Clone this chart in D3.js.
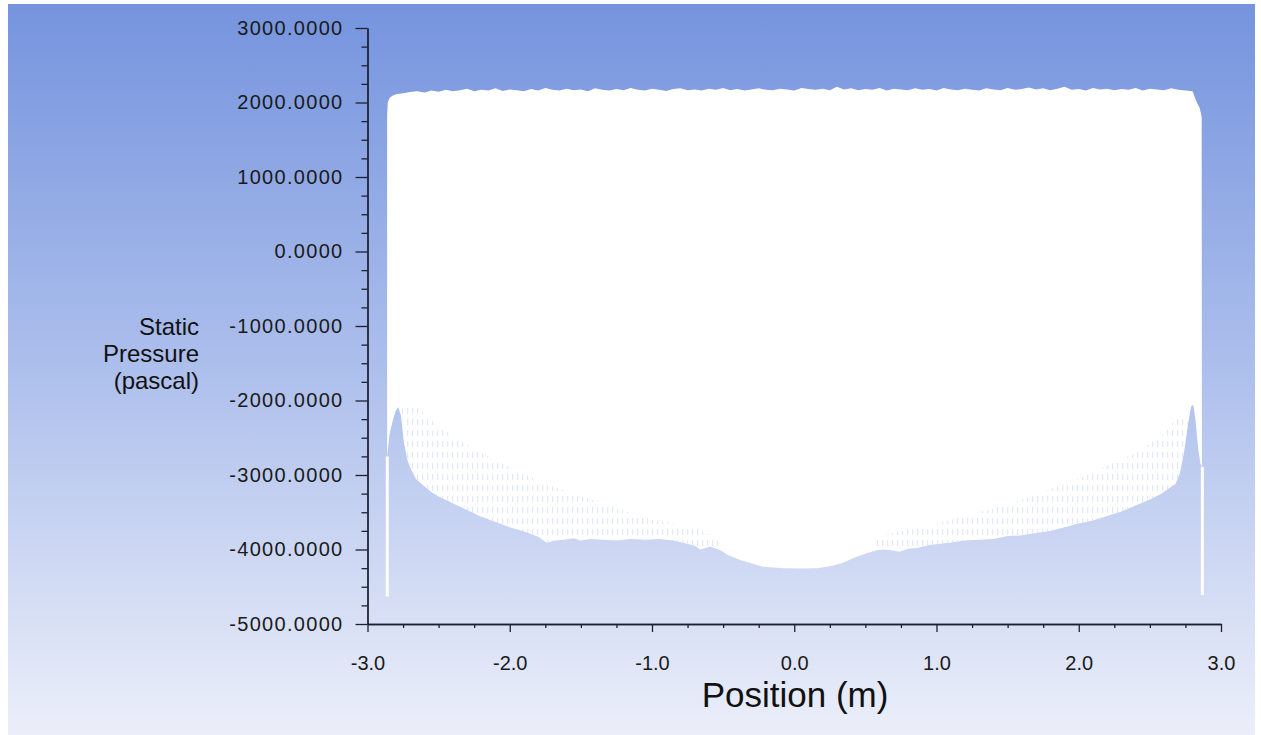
<!DOCTYPE html>
<html>
<head>
<meta charset="utf-8">
<script src="https://cdn.jsdelivr.net/npm/d3@7"></script>
<style>
  html, body { margin: 0; padding: 0; background: #ffffff; }
  svg { display: block; }
  text { font-family: "Liberation Sans", Arial, sans-serif; }
</style>
</head>
<body>
<svg id="chart" width="1261" height="735"></svg>
<script>
// Static pressure along the line: upper crest of the profile
const topGridStart = -2.80, topGridStep = 0.05;
const topPressure = [
  2110, 2125, 2140, 2150, 2135, 2160, 2145, 2170, 2150, 2165,
  2185, 2150, 2170, 2160, 2190, 2155, 2175, 2165, 2150, 2180,
  2160, 2195, 2170, 2160, 2185, 2165, 2175, 2150, 2190, 2170,
  2160, 2180, 2165, 2195, 2170, 2160, 2185, 2170, 2155, 2180,
  2190, 2165, 2175, 2160, 2185, 2170, 2195, 2165, 2180, 2160,
  2175, 2190, 2170, 2165, 2185, 2175, 2160, 2195, 2180, 2170,
  2185, 2165, 2210, 2175, 2190, 2165, 2180, 2170, 2195, 2160,
  2185, 2175, 2165, 2190, 2170, 2180, 2160, 2195, 2175, 2165,
  2185, 2170, 2160, 2190, 2175, 2165, 2195, 2170, 2180, 2200,
  2175, 2190, 2165, 2185, 2210, 2170, 2180, 2160, 2195, 2175,
  2185, 2165, 2180, 2170, 2195, 2160, 2185, 2175, 2165, 2190,
  2170, 2160, 2150
];
// rounded corners of the crest near the walls
const topLeftPos = [-2.862, -2.858, -2.845, -2.825];
const topLeftPressure = [1800, 2000, 2060, 2090];
const topRightPos = [2.83, 2.85, 2.864];
const topRightPressure = [2000, 1930, 1810];

// lower envelope of the profile
const lowPos = [
  -2.862, -2.845, -2.82, -2.80, -2.783, -2.765, -2.745, -2.72, -2.70, -2.66,
  -2.62, -2.55, -2.50, -2.40, -2.30, -2.20, -2.10, -2.00, -1.90, -1.80,
  -1.74, -1.68, -1.62, -1.55, -1.50, -1.43, -1.35, -1.25, -1.15, -1.05,
  -0.95, -0.85, -0.78, -0.70, -0.66, -0.59, -0.52, -0.47, -0.38, -0.31,
  -0.22, -0.08, 0.05, 0.16, 0.26, 0.34, 0.42, 0.51, 0.58, 0.63,
  0.68, 0.74, 0.80, 0.86, 0.95, 1.09, 1.20, 1.30, 1.40, 1.50,
  1.60, 1.70, 1.80, 1.90, 2.00, 2.10, 2.20, 2.30, 2.40, 2.50,
  2.58, 2.64, 2.68, 2.71, 2.74, 2.77, 2.79, 2.805, 2.82, 2.84,
  2.855, 2.866
];
const lowPressure = [
  -2750, -2450, -2250, -2130, -2090, -2200, -2550, -2800, -2900, -3050,
  -3120, -3230, -3290, -3380, -3470, -3560, -3630, -3700, -3760, -3830,
  -3910, -3880, -3870, -3850, -3880, -3860, -3870, -3880, -3860, -3870,
  -3860, -3880, -3910, -3950, -4000, -3960, -4010, -4070, -4140, -4180,
  -4230, -4250, -4255, -4250, -4220, -4180, -4110, -4050, -4010, -4000,
  -4010, -4030, -3990, -3980, -3940, -3910, -3880, -3870, -3860, -3820,
  -3810, -3780, -3750, -3700, -3650, -3610, -3550, -3490, -3410, -3330,
  -3250, -3170, -3120, -2980, -2700, -2300, -2080, -2060, -2250, -2650,
  -2850, -2890
];

// solid upper edge of the striated band above the lower envelope
const bandLeftPos = [-2.76, -2.65, -2.50, -2.30, -2.00, -1.70, -1.40, -1.00, -0.70, -0.55, -0.47];
const bandLeftPressure = [-2050, -2080, -2350, -2600, -2900, -3150, -3350, -3600, -3700, -3850, -4070];
const bandRightPos = [0.51, 0.60, 1.00, 1.50, 2.00, 2.40, 2.60, 2.72, 2.77];
const bandRightPressure = [-4050, -3820, -3650, -3400, -3050, -2700, -2450, -2150, -2300];

// thin wall spikes at both ends
const spikePos = [-2.861, 2.869];
const spikeFrom = [-2750, -2890];
const spikeTo = [-4630, -4610];

const yTicks = [3000, 2000, 1000, 0, -1000, -2000, -3000, -4000, -5000];
const xTicks = [-3, -2, -1, 0, 1, 2, 3];

const svg = d3.select("#chart");

// panel with vertical gradient
const defs = svg.append("defs");
const grad = defs.append("linearGradient").attr("id", "bg")
  .attr("x1", 0).attr("y1", 0).attr("x2", 0).attr("y2", 1);
grad.append("stop").attr("offset", "0%").attr("stop-color", "#7594de");
grad.append("stop").attr("offset", "50%").attr("stop-color", "#adbfec");
grad.append("stop").attr("offset", "100%").attr("stop-color", "#eceffa");

const stripes = defs.append("pattern").attr("id", "stripes")
  .attr("patternUnits", "userSpaceOnUse").attr("width", 5).attr("height", 11);
stripes.append("rect").attr("x", 2).attr("y", 1).attr("width", 1.2).attr("height", 6)
  .attr("fill", "#b9c7ee").attr("opacity", 0.4);

svg.append("rect").attr("x", 8).attr("y", 4).attr("width", 1247).attr("height", 731)
  .attr("fill", "url(#bg)");

const x = d3.scaleLinear().domain([-3, 3]).range([367.5, 1221]);
const y = d3.scaleLinear().domain([-5000, 3000]).range([624, 28]);

// assemble crest and envelope as point lists
const topPts = topLeftPos.map((p, i) => [p, topLeftPressure[i]])
  .concat(topPressure.map((v, i) => [topGridStart + i * topGridStep, v]))
  .concat(topRightPos.map((p, i) => [p, topRightPressure[i]]));
const lowPts = lowPos.map((p, i) => [p, lowPressure[i]]);

const line = d3.line().x(d => x(d[0])).y(d => y(d[1]));

// white region between crest and lower envelope
const outline = topPts.concat(lowPts.slice().reverse());
svg.append("path").attr("d", line(outline) + "Z").attr("fill", "#ffffff");

// striated bands
function band(pos, pres) {
  const lo = pos[0], hi = pos[pos.length - 1];
  const upper = pos.map((p, i) => [p, pres[i]]);
  const lower = lowPts.filter(d => d[0] > lo && d[0] < hi).reverse();
  return line(upper.concat(lower)) + "Z";
}
svg.append("path").attr("d", band(bandLeftPos, bandLeftPressure)).attr("fill", "url(#stripes)");
svg.append("path").attr("d", band(bandRightPos, bandRightPressure)).attr("fill", "url(#stripes)");

// wall spikes
svg.selectAll(".spike").data(spikePos).join("line").attr("class", "spike")
  .attr("x1", d => x(d)).attr("x2", d => x(d))
  .attr("y1", (d, i) => y(spikeFrom[i])).attr("y2", (d, i) => y(spikeTo[i]))
  .attr("stroke", "#ffffff").attr("stroke-width", 3);

// axes
const axisColor = "#1e2030";
const hyphen = f => v => f(v).replace("\u2212", "-");
function minorValues(major, n) {
  const out = [];
  for (let i = 0; i < major.length - 1; i++) {
    const a = major[i], b = major[i + 1];
    for (let k = 1; k < n; k++) out.push(a + (b - a) * k / n);
  }
  return out;
}

svg.append("g").attr("transform", "translate(367.5,0)")
  .call(d3.axisLeft(y).tickValues(minorValues(yTicks, 4)).tickSize(6).tickSizeOuter(0).tickFormat(""));
const yMajor = svg.append("g").attr("transform", "translate(367.5,0)")
  .call(d3.axisLeft(y).tickValues(yTicks).tickSize(12).tickSizeOuter(0).tickPadding(12)
    .tickFormat(hyphen(d3.format(".4f"))));

svg.append("g").attr("transform", "translate(0,624)")
  .call(d3.axisBottom(x).tickValues(minorValues(xTicks, 4)).tickSize(4).tickSizeOuter(0).tickFormat(""));
const xMajor = svg.append("g").attr("transform", "translate(0,624)")
  .call(d3.axisBottom(x).tickValues(xTicks).tickSize(8).tickSizeOuter(0).tickPadding(24)
    .tickFormat(hyphen(d3.format(".1f"))));

svg.selectAll(".domain, .tick line").attr("stroke", axisColor).attr("stroke-width", 1.3);
svg.selectAll(".tick text").attr("fill", "#1a1a1a").style("font-size", "20px")
  .style("font-family", "'Liberation Sans', Arial, sans-serif");
yMajor.selectAll(".tick text").style("letter-spacing", "1.3px");

// axis titles
["Static", "Pressure", "(pascal)"].forEach((t, i) => {
  svg.append("text").attr("x", 199).attr("y", 335 + i * 27).attr("text-anchor", "end")
    .attr("fill", "#111111").style("font-size", "24px").text(t);
});

svg.append("text").attr("x", 795).attr("y", 707).attr("text-anchor", "middle")
  .attr("fill", "#111111").style("font-size", "35px").text("Position (m)");
</script>
</body>
</html>
